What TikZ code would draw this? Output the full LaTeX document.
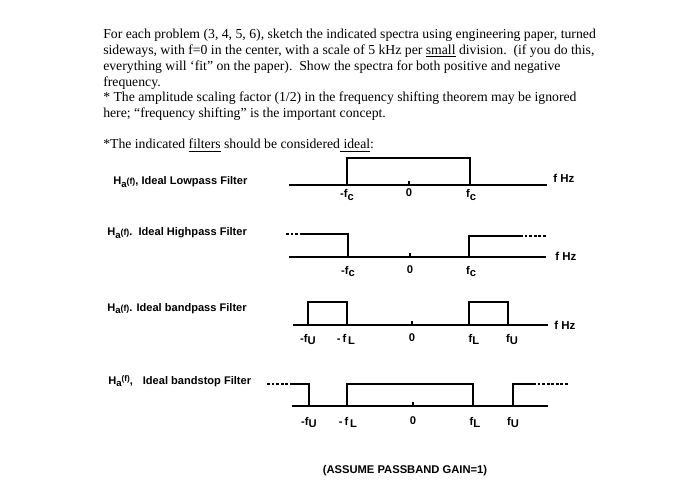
\documentclass[tikz,border=0pt]{standalone}
\usepackage{fontspec}
\setmainfont{Liberation Serif}
\setsansfont{Liberation Sans}
\newcommand{\lowsub}[1]{\raisebox{-0.45ex}{#1}}
\newcommand{\Hsub}{H\raisebox{-0.5ex}{\fontsize{7.2}{8}\selectfont a}{\fontsize{6.6}{8}\selectfont(f)}}
\begin{document}
\begin{tikzpicture}[x=0.75pt,y=-0.75pt,
  body/.style={anchor=base west, inner sep=0, font=\fontsize{10.3}{12}\selectfont},
  lbl/.style={anchor=base west, inner sep=0, font=\sffamily\bfseries\fontsize{8.3}{10}\selectfont},
  hz/.style={anchor=base west, inner sep=0, font=\sffamily\bfseries\fontsize{8.6}{10}\selectfont},
  tl/.style={anchor=base, inner sep=0, font=\sffamily\bfseries\fontsize{8.4}{10}\selectfont},
  ax/.style={line width=1.1pt},
  sig/.style={line width=1.1pt},
  dsh/.style={line width=1pt, dash pattern=on 2.2pt off 1.2pt}]
\useasboundingbox[fill=white] (0,0) rectangle (700,499);

% ---- body text ----
\node[body] (t1) at (103,39) {For each problem (3, 4, 5, 6), sketch the indicated spectra using engineering paper, turned};
\node[body] (t2) at (103,54.7) {sideways, with f=0 in the center, with a scale of 5 kHz per \underline{small} division.\ \ (if you do this,};
\node[body] (t3) at (103,70.4) {everything will ‘fit” on the paper).\ \ Show the spectra for both positive and negative};
\node[body] (t4) at (103,86.1) {frequency.};
\node[body] (t5) at (103,101.8) {* The amplitude scaling factor (1/2) in the frequency shifting theorem may be ignored};
\node[body] (t6) at (103,117.5) {here; “frequency shifting” is the important concept.};
\node[body] (t8) at (103,148.9) {*The indicated \underline{filters} should be considered\underline{ ideal}:};

% ---- lowpass ----
\node[lbl] (l1) at (113,185) {\Hsub, Ideal Lowpass Filter};
\coordinate (a1s) at (289,185); \coordinate (a1e) at (547,185);
\coordinate (a1z) at (409,185); \coordinate (a1t) at (409,181);
\coordinate (a1l) at (347,185); \coordinate (a1lt) at (347,158);
\coordinate (a1r) at (470,185); \coordinate (a1rt) at (470,158);
\draw[ax] (a1s) -- (a1e);
\draw[ax] (a1z) -- (a1t);
\draw[sig] (a1l) -- (a1lt) -- (a1rt) -- (a1r);
\node[hz] (f1) at (553,183) {f Hz};
\node[tl] (m1) at (347,198) {-f\lowsub{c}};
\node[tl] (z1) at (409,197) {0};
\node[tl] (p1) at (471,198) {f\lowsub{c}};

% ---- highpass ----
\node[lbl] (l2) at (107,236) {\Hsub.\ \ Ideal Highpass Filter};
\coordinate (a2s) at (289,257); \coordinate (a2e) at (546,257);
\coordinate (a2z) at (410,257); \coordinate (a2t) at (410,253);
\coordinate (h2d) at (286,234); \coordinate (h2a) at (303,234);
\coordinate (h2b) at (348,234); \coordinate (h2c) at (348,257);
\coordinate (h2e) at (469,257); \coordinate (h2f) at (469,236);
\coordinate (h2g) at (520,236); \coordinate (h2h) at (547,236);
\draw[ax] (a2s) -- (a2e);
\draw[ax] (a2z) -- (a2t);
\draw[dsh] (h2d) -- (h2a);
\draw[sig] (h2a) -- (h2b) -- (h2c);
\draw[sig] (h2e) -- (h2f) -- (h2g);
\draw[dsh] (h2g) -- (h2h);
\node[hz] (f2) at (555,260) {f Hz};
\node[tl] (m2) at (348,274) {-f\lowsub{c}};
\node[tl] (z2) at (410,273) {0};
\node[tl] (p2) at (471,274) {f\lowsub{c}};

% ---- bandpass ----
\node[lbl] (l3) at (107,311) {\Hsub. Ideal bandpass Filter};
\coordinate (a3s) at (293,325); \coordinate (a3e) at (548,325);
\coordinate (a3z) at (412,325); \coordinate (a3t) at (412,321);
\coordinate (b3a) at (308,325); \coordinate (b3b) at (308,302);
\coordinate (b3c) at (347,302); \coordinate (b3d) at (347,325);
\coordinate (b3e) at (469,325); \coordinate (b3f) at (469,302);
\coordinate (b3g) at (508,302); \coordinate (b3h) at (508,325);
\draw[ax] (a3s) -- (a3e);
\draw[ax] (a3z) -- (a3t);
\draw[sig] (b3a) -- (b3b) -- (b3c) -- (b3d);
\draw[sig] (b3e) -- (b3f) -- (b3g) -- (b3h);
\node[hz] (f3) at (554,329) {f Hz};
\node[tl] (m3u) at (308,342) {-f\lowsub{U}};
\node[tl] (m3l) at (346,342) {-\,f\lowsub{\,L}};
\node[tl] (z3) at (412,341) {0};
\node[tl] (p3l) at (474,342) {f\lowsub{L}};
\node[tl] (p3u) at (512,342) {f\lowsub{U}};

% ---- bandstop ----
\node[lbl] (l4) at (108,384) {H\raisebox{-0.5ex}{\fontsize{7.2}{8}\selectfont a}\raisebox{0.5ex}{\fontsize{6.2}{8}\selectfont(f)},\hspace{0.9em}Ideal bandstop Filter};
\coordinate (a4s) at (292,406); \coordinate (a4e) at (548,406);
\coordinate (a4z) at (413,406); \coordinate (a4t) at (413,402);
\coordinate (s4d) at (267,384); \coordinate (s4a) at (292,384);
\coordinate (s4b) at (309,384); \coordinate (s4c) at (309,406);
\coordinate (s4e) at (347,406); \coordinate (s4f) at (347,384);
\coordinate (s4g) at (473,384); \coordinate (s4h) at (473,406);
\coordinate (s4i) at (513,406); \coordinate (s4j) at (513,384);
\coordinate (s4k) at (533,384); \coordinate (s4l) at (568,384);
\draw[ax] (a4s) -- (a4e);
\draw[ax] (a4z) -- (a4t);
\draw[dsh] (s4d) -- (s4a);
\draw[sig] (s4a) -- (s4b) -- (s4c);
\draw[sig] (s4e) -- (s4f) -- (s4g) -- (s4h);
\draw[sig] (s4i) -- (s4j) -- (s4k);
\draw[dsh] (s4k) -- (s4l);
\node[tl] (m4u) at (309,425) {-f\lowsub{U}};
\node[tl] (m4l) at (348,425) {-\,f\lowsub{\,L}};
\node[tl] (z4) at (413,424) {0};
\node[tl] (p4l) at (475,425) {f\lowsub{L}};
\node[tl] (p4u) at (513,425) {f\lowsub{U}};

\node[tl, font=\sffamily\bfseries\fontsize{8.4}{10}\selectfont] (gain) at (405,473) {(ASSUME PASSBAND GAIN=1)};
\end{tikzpicture}
\end{document}
